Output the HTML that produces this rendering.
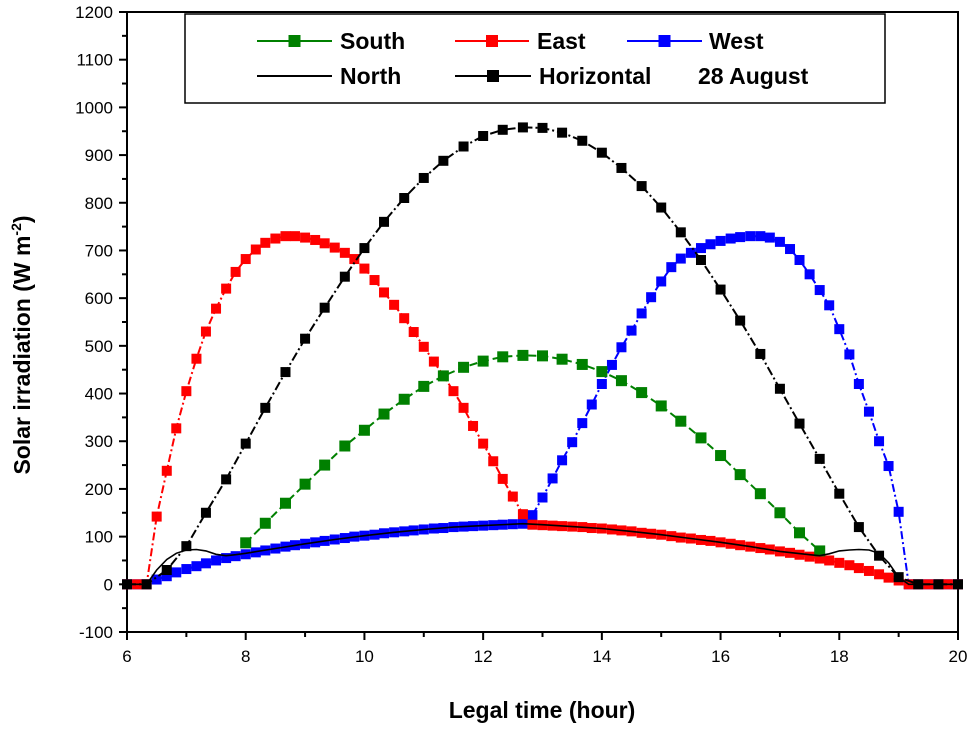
<!DOCTYPE html>
<html><head><meta charset="utf-8"><style>
body{margin:0;background:#fff;width:974px;height:726px;overflow:hidden}
svg text{font-family:"Liberation Sans",Arial,sans-serif}
</style></head><body>
<svg id="chart" width="974" height="726" xmlns="http://www.w3.org/2000/svg">
<g id="axes"></g><g id="series"></g><g id="legend"></g>
</svg>
<script>
const xTicks=[6,8,10,12,14,16,18,20];
const yTicks=[-100,0,100,200,300,400,500,600,700,800,900,1000,1100,1200];
const tHoriz=[6,6.33,6.67,7,7.33,7.67,8,8.33,8.67,9,9.33,9.67,10,10.33,10.67,11,11.33,11.67,12,12.33,12.67,13,13.33,13.67,14,14.33,14.67,15,15.33,15.67,16,16.33,16.67,17,17.33,17.67,18,18.33,18.67,19,19.33,19.67,20];
const vHoriz=[0,0,30,80,150,220,295,370,445,515,580,645,705,760,810,852,888,918,940,953,958,957,947,930,905,873,835,790,738,680,618,553,483,410,337,263,190,120,60,15,0,0,0];
const tSouth=[8,8.33,8.67,9,9.33,9.67,10,10.33,10.67,11,11.33,11.67,12,12.33,12.67,13,13.33,13.67,14,14.33,14.67,15,15.33,15.67,16,16.33,16.67,17,17.33,17.67];
const vSouth=[87,128,170,210,250,290,323,357,388,415,437,455,468,477,480,479,472,461,446,427,402,374,342,307,270,230,190,150,108,70];
const tEast=[6,6.17,6.33,6.5,6.67,6.83,7,7.17,7.33,7.5,7.67,7.83,8,8.17,8.33,8.5,8.67,8.83,9,9.17,9.33,9.5,9.67,9.83,10,10.17,10.33,10.5,10.67,10.83,11,11.17,11.33,11.5,11.67,11.83,12,12.17,12.33,12.5,12.67,12.83,13,13.17,13.33,13.5,13.67,13.83,14,14.17,14.33,14.5,14.67,14.83,15,15.17,15.33,15.5,15.67,15.83,16,16.17,16.33,16.5,16.67,16.83,17,17.17,17.33,17.5,17.67,17.83,18,18.17,18.33,18.5,18.67,18.83,19,19.17,19.33,19.5,19.67,19.83,20];
const vEast=[0,0,0,142,238,327,405,473,530,578,620,655,682,702,716,725,730,730,727,722,715,706,695,682,662,638,612,586,558,529,498,467,437,405,370,332,295,258,221,184,147,125,124,123,122,121,120,118,117,115,113,111,108,106,104,101,98,96,93,91,88,85,82,79,76,73,69,66,62,58,54,50,45,40,34,28,21,14,8,0,0,0,0,0,0];
const tWest=tEast;
const vWest=[0,0,0,10,17,25,32,38,44,50,55,59,63,67,71,75,79,82,85,88,91,94,97,100,102,104,107,109,111,113,115,117,118,120,121,122,123,124,125,126,127,145,182,222,260,298,338,377,420,460,497,532,568,602,635,665,683,695,705,713,720,725,728,730,730,727,718,703,680,650,617,585,535,482,420,362,300,248,152,0,0,0,0,0,0];
const tNorth=[6,6.33,6.5,6.67,6.83,7,7.17,7.33,7.5,7.67,7.83,8,8.5,9,9.5,10,10.5,11,11.5,12,12.5,12.67,13,13.5,14,14.5,15,15.5,16,16.5,17,17.5,17.67,17.83,18,18.17,18.33,18.5,18.67,18.83,19,19.17,20];
const vNorth=[0,0,30,52,65,72,73,70,63,60,62,65,75,85,94,102,109,115,120,123,126,127,125,121,117,111,104,96,88,79,69,62,60,64,70,72,73,72,65,45,15,0,0];

const X0=127,X1=958,Y0=632,Y1=12;
const xs=t=>X0+(t-6)/14*(X1-X0);
const ys=v=>Y0-(v+100)/1300*(Y0-Y1);
const NS="http://www.w3.org/2000/svg";
function mk(tag,at,parent){const e=document.createElementNS(NS,tag);for(const k in at)e.setAttribute(k,at[k]);parent.appendChild(e);return e;}
const axes=document.getElementById('axes'),ser=document.getElementById('series'),leg=document.getElementById('legend');

let fr=mk('rect',{x:X0,y:Y1,width:X1-X0,height:Y0-Y1,fill:'none',stroke:'#000','stroke-width':2},axes);


for(let v=-100;v<=1200;v+=50){
  const major=v%100===0;
  mk('line',{x1:X0,x2:X0-(major?8:5),y1:ys(v),y2:ys(v),stroke:'#000','stroke-width':2},axes);
}
yTicks.forEach(v=>{
  const t=mk('text',{x:X0-14,y:ys(v)+6,'text-anchor':'end','font-size':17},axes);
  t.textContent=v;
  
  
});
for(let h=6;h<=20;h++){
  const major=h%2===0;
  mk('line',{x1:xs(h),x2:xs(h),y1:Y0,y2:Y0+(major?8:5),stroke:'#000','stroke-width':2},axes);
}
xTicks.forEach(h=>{
  const t=mk('text',{x:xs(h),y:Y0+30,'text-anchor':'middle','font-size':17},axes);
  t.textContent=h;
  
  
});
let xt=mk('text',{x:542,y:718,'text-anchor':'middle','font-size':23,'font-weight':'bold'},axes);
xt.textContent='Legal time (hour)';


let yt=mk('text',{x:0,y:0,'text-anchor':'middle','font-size':23,'font-weight':'bold',transform:'translate(30,345) rotate(-90)'},axes);
yt.innerHTML='Solar irradiation (W m<tspan dy="-9" font-size="14">-2</tspan><tspan dy="9">)</tspan>';



function series(name,T,V,color,dash,mark,ms,width){
  const g=mk('g',{},ser);
  
  
  const d=T.map((t,i)=>(i?'L':'M')+xs(t).toFixed(1)+','+ys(V[i]).toFixed(1)).join('');
  const p=mk('path',{d:d,fill:'none',stroke:color,'stroke-width':width,'stroke-dasharray':dash},g);
  
  
  if(mark)T.forEach((t,i)=>{
    const r=mk('rect',{x:xs(t)-ms/2,y:ys(V[i])-ms/2,width:ms,height:ms,fill:color},g);
    
    
  });
}
series('west',tWest,vWest,'#0000ff','8 3 2 3',true,10,2);
series('east',tEast,vEast,'#ff0000','8 3 2 3',true,10,2);
series('south',tSouth,vSouth,'#008000','8 4',true,11,2);
series('horizontal',tHoriz,vHoriz,'#000','9 3 2 3',true,10,2);
series('north',tNorth,vNorth,'#000','',false,0,1.6);

let lb=mk('rect',{x:185,y:14,width:700,height:89,fill:'#fff',stroke:'#000','stroke-width':1.5},leg);


const L=[['South','#008000',257,332,340,41,true],['East','#ff0000',455,529,537,41,true],['West','#0000ff',627,702,709,41,true],['North','#000',257,332,340,76,false],['Horizontal','#000',455,531,539,76,true]];
L.forEach(e=>{
  const g=mk('g',{},leg);
  
  
  mk('line',{x1:e[2],x2:e[3],y1:e[5],y2:e[5],stroke:e[1],'stroke-width':2},g);
  if(e[6])mk('rect',{x:(e[2]+e[3])/2-6,y:e[5]-6,width:12,height:12,fill:e[1]},g);
  const t=mk('text',{x:e[4],y:e[5]+8,'font-size':23,'font-weight':'bold'},g);
  t.textContent=e[0];
});
let dt=mk('text',{x:698,y:84,'font-size':23,'font-weight':'bold'},leg);
dt.textContent='28 August';


</script>
</body></html>
